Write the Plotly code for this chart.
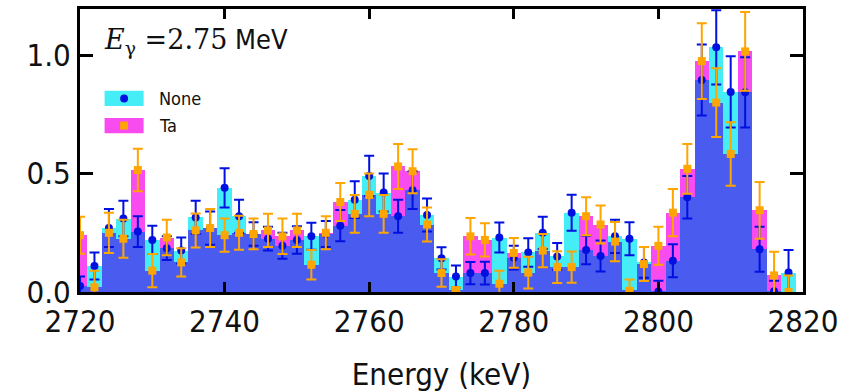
import numpy as np
import plotly.graph_objects as go

# bin centres (keV), 2 keV bins
energy = list(range(2720, 2820, 2))

none_vals = [0.025, 0.11, 0.27, 0.31, 0.255, 0.22, 0.185, 0.175, 0.315, 0.27,
             0.44, 0.32, 0.245, 0.225, 0.195, 0.22, 0.235, 0.245, 0.28, 0.39,
             0.49, 0.42, 0.32, 0.43, 0.325, 0.142, 0.065, 0.08, 0.08, 0.23,
             0.145, 0.167, 0.25, 0.15, 0.335, 0.177, 0.152, 0.235, 0.225, 0.125,
             0.002, 0.132, 0.40, 0.895, 1.033, 0.845, 0.843, 0.18, 0.003, 0.082]
none_err = [0.04, 0.057, 0.08, 0.075, 0.065, 0.06, 0.05, 0.055, 0.07, 0.07,
            0.083, 0.07, 0.05, 0.05, 0.055, 0.058, 0.057, 0.055, 0.066, 0.078,
            0.085, 0.08, 0.07, 0.08, 0.07, 0.047, 0.047, 0.047, 0.048, 0.063,
            0.05, 0.06, 0.068, 0.057, 0.076, 0.06, 0.065, 0.07, 0.07, 0.065,
            0.045, 0.07, 0.09, 0.15, 0.157, 0.15, 0.148, 0.095, 0.045, 0.095]
ta_vals = [0.24, 0.02, 0.25, 0.225, 0.515, 0.09, 0.23, 0.125, 0.26, 0.27,
           0.24, 0.25, 0.245, 0.26, 0.235, 0.26, 0.115, 0.25, 0.38, 0.33,
           0.41, 0.33, 0.53, 0.51, 0.285, 0.08, 0.008, 0.235, 0.22, 0.035,
           0.165, 0.082, 0.175, 0.105, 0.105, 0.32, 0.285, 0.213, 0.005, 0.118,
           0.195, 0.335, 0.52, 0.975, 0.80, 0.583, 1.016, 0.345, 0.07, 0.0]
ta_err = [0.078, 0.07, 0.085, 0.08, 0.09, 0.07, 0.075, 0.06, 0.072, 0.08,
          0.07, 0.072, 0.065, 0.07, 0.075, 0.07, 0.062, 0.07, 0.08, 0.08,
          0.09, 0.08, 0.095, 0.093, 0.072, 0.058, 0.01, 0.077, 0.07, 0.055,
          0.063, 0.067, 0.07, 0.067, 0.066, 0.08, 0.08, 0.083, 0.048, 0.072,
          0.08, 0.1, 0.105, 0.16, 0.145, 0.134, 0.166, 0.12, 0.1, 0.07]

x_ticks = [2720, 2740, 2760, 2780, 2800, 2820]
y_ticks = [0.0, 0.5, 1.0]
series_names = ["None", "Ta"]

CYAN = "#45eef6"
MAGENTA = "#f84cf0"
OVERLAP = "#4a5cf0"
BLUE = "#0010e0"
ORANGE = "#ffa500"
BIN_W = 2

overlap_vals = np.minimum(np.array(none_vals), np.array(ta_vals))

fig = go.Figure()
fig.add_bar(x=energy, y=none_vals, width=BIN_W, marker=dict(color=CYAN, line=dict(width=0)),
            showlegend=False, hoverinfo="skip")
fig.add_bar(x=energy, y=ta_vals, width=BIN_W, marker=dict(color=MAGENTA, line=dict(width=0)),
            showlegend=False, hoverinfo="skip")
fig.add_bar(x=energy, y=overlap_vals, width=BIN_W, marker=dict(color=OVERLAP, line=dict(width=0)),
            showlegend=False, hoverinfo="skip")

fig.add_scatter(x=energy, y=none_vals, mode="markers", name=series_names[0],
                marker=dict(color=BLUE, size=8, symbol="circle"),
                error_y=dict(type="data", array=none_err, color=BLUE, thickness=2, width=5),
                showlegend=False)
fig.add_scatter(x=energy, y=ta_vals, mode="markers", name=series_names[1],
                marker=dict(color=ORANGE, size=8, symbol="square"),
                error_y=dict(type="data", array=ta_err, color=ORANGE, thickness=2, width=5),
                showlegend=False)

TICKFONT = dict(family="DejaVu Sans Condensed, DejaVu Sans", size=31, color="#111111")

fig.update_layout(
    width=856, height=392,
    margin=dict(l=80, r=53, t=9, b=100),
    paper_bgcolor="white", plot_bgcolor="white",
    barmode="overlay", bargap=0,
    xaxis=dict(range=[2720, 2820], tickvals=x_ticks, ticks="inside", ticklen=10, tickwidth=2.5,
               tickcolor="black", showline=True, linewidth=3, linecolor="black", mirror="allticks",
               showgrid=False, zeroline=False, tickfont=TICKFONT, automargin=False,
               title=dict(text="Energy (keV)", font=TICKFONT, standoff=27)),
    yaxis=dict(range=[0, 1.195], tickvals=y_ticks, tickformat=".1f", ticks="inside", ticklen=13,
               tickwidth=2.5, tickcolor="black", showline=True, linewidth=3, linecolor="black",
               mirror="allticks", showgrid=False, zeroline=False, tickfont=TICKFONT, automargin=False),
)

# annotation
fig.add_annotation(xref="paper", yref="paper", x=0.03, y=0.885, xanchor="left", yanchor="middle",
                   showarrow=False,
                   text="<span style='font-family:DejaVu Serif'><i>E</i><sub>γ</sub> =2.75</span> MeV",
                   font=dict(family="DejaVu Sans Condensed, DejaVu Sans", size=27, color="#111111"))

# legend (manual, patch + marker)
legend_rows = [(0.684, CYAN, BLUE, "circle", series_names[0]),
               (0.588, MAGENTA, ORANGE, "square", series_names[1])]
for yc, patch, mcol, sym, label in legend_rows:
    fig.add_shape(type="rect", xref="paper", yref="paper", x0=0.034, x1=0.088,
                  y0=yc - 0.027, y1=yc + 0.027, fillcolor=patch, line=dict(width=0), layer="above")
    if sym == "circle":
        fig.add_shape(type="circle", xref="paper", yref="paper", x0=0.061 - 0.0055, x1=0.061 + 0.0055,
                      y0=yc - 0.0141, y1=yc + 0.0141, fillcolor=mcol, line=dict(width=0), layer="above")
    else:
        fig.add_shape(type="rect", xref="paper", yref="paper", x0=0.061 - 0.0055, x1=0.061 + 0.0055,
                      y0=yc - 0.0141, y1=yc + 0.0141, fillcolor=mcol, line=dict(width=0), layer="above")
    fig.add_annotation(xref="paper", yref="paper", x=0.106, y=yc, xanchor="left", yanchor="middle",
                       showarrow=False, text=label,
                       font=dict(family="DejaVu Sans Condensed, DejaVu Sans", size=18, color="#111111"))

fig.write_html("out.html")
